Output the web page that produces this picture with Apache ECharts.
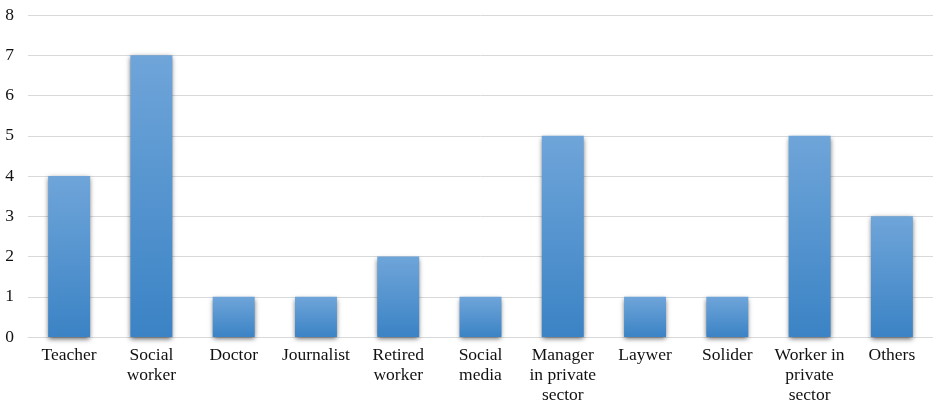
<!DOCTYPE html>
<html><head><meta charset="utf-8">
<script src="https://cdn.jsdelivr.net/npm/echarts@6/dist/echarts.min.js"></script>
<style>html,body{margin:0;padding:0;background:#fff}#c{width:933px;height:406px}</style>
</head><body><div id="c"></div>
<script>
const categories = ["Teacher","Social\nworker","Doctor","Journalist","Retired\nworker","Social\nmedia","Manager\nin private\nsector","Laywer","Solider","Worker in\nprivate\nsector","Others"];
const values = [4,7,1,1,2,1,5,1,1,5,3];
const yTicks = {min:0,max:8,interval:1};
const chart = echarts.init(document.getElementById('c'));
chart.setOption({
  animation:false,
  grid:{left:28,right:0,top:15,bottom:69,containLabel:false,outerBoundsMode:'none'},
  xAxis:{type:'category',data:categories,
    axisLine:{lineStyle:{color:'#d9d9d9',width:1}},axisTick:{show:false},
    axisLabel:{fontFamily:'Liberation Serif',fontSize:17.5,color:'#111',lineHeight:20,margin:8,interval:0}},
  yAxis:{type:'value',min:yTicks.min,max:yTicks.max,interval:yTicks.interval,
    splitLine:{lineStyle:{color:'#d9d9d9'}},axisLine:{show:false},axisTick:{show:false},
    axisLabel:{fontFamily:'Liberation Serif',fontSize:17.5,color:'#111',margin:14}},
  series:[{type:'bar',data:values,barWidth:'51%',
    itemStyle:{color:new echarts.graphic.LinearGradient(0,0,0,1,[{offset:0,color:'#6fa5d9'},{offset:1,color:'#3b83c5'}]),
      shadowColor:'rgba(0,0,0,0.6)',shadowBlur:5,shadowOffsetY:2}}]
});
</script></body></html>
